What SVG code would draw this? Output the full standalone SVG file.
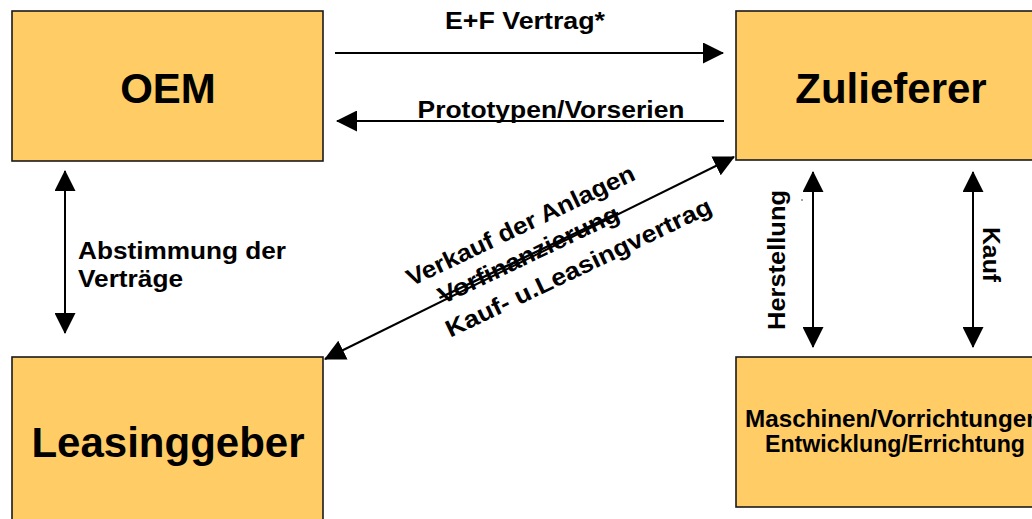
<svg xmlns="http://www.w3.org/2000/svg" width="1032" height="519" viewBox="0 0 1032 519">
<style>
.box{fill:#FFCC66;stroke:#1a1a1a;stroke-width:1.6}
.big{font-family:"Liberation Sans",Arial,sans-serif;font-weight:bold;font-size:42px;fill:#000;text-anchor:middle}
.lbl{font-family:"Liberation Sans",Arial,sans-serif;font-weight:bold;font-size:24px;fill:#000}
.mid{text-anchor:middle}
.con{stroke:#000;stroke-width:2;fill:none}
</style>
<defs>
<marker id="ah" markerUnits="userSpaceOnUse" markerWidth="21" markerHeight="21" refX="20" refY="10.5" orient="auto-start-reverse" viewBox="0 0 21 21">
<path d="M0,0 L21,10.5 L0,21 z" fill="#000"/>
</marker>
</defs>
<rect width="1032" height="519" fill="#fff"/>
<g id="oem"><rect class="box" x="12" y="11" width="311" height="150"/><text class="big" x="168" y="103">OEM</text></g>
<g id="zulieferer"><rect class="box" x="736" y="11" width="310" height="149"/><text class="big" x="891" y="103">Zulieferer</text></g>
<g id="leasinggeber"><rect class="box" x="12" y="357" width="311" height="175"/><text class="big" x="168" y="457">Leasinggeber</text></g>
<g id="maschinen"><rect class="box" x="736" y="357" width="310" height="150"/>
<text class="lbl" x="745" y="427" font-size="23" textLength="296" lengthAdjust="spacingAndGlyphs">Maschinen/Vorrichtungen</text>
<text class="lbl mid" x="895" y="452" font-size="23" textLength="260" lengthAdjust="spacingAndGlyphs">Entwicklung/Errichtung</text></g>
<g id="connectors">
<line class="con" x1="335" y1="53" x2="723" y2="53" marker-end="url(#ah)"/>
<line class="con" x1="724" y1="121" x2="337" y2="121" marker-end="url(#ah)"/>
<line class="con" x1="65" y1="171" x2="65" y2="333" marker-start="url(#ah)" marker-end="url(#ah)"/>
<line class="con" x1="813" y1="172" x2="813" y2="347" marker-start="url(#ah)" marker-end="url(#ah)"/>
<line class="con" x1="973" y1="172" x2="973" y2="347" marker-start="url(#ah)" marker-end="url(#ah)"/>
<line class="con" x1="325" y1="359" x2="734" y2="157" marker-start="url(#ah)" marker-end="url(#ah)"/>
</g>
<g id="labels">
<text class="lbl mid" x="525" y="29" textLength="160" lengthAdjust="spacingAndGlyphs">E+F Vertrag*</text>
<text class="lbl mid" x="551" y="118" font-size="21" textLength="267" lengthAdjust="spacingAndGlyphs">Prototypen/Vorserien</text>
<text class="lbl" x="78" y="259" font-size="25" textLength="208" lengthAdjust="spacingAndGlyphs">Abstimmung der</text>
<text class="lbl" x="78" y="287" font-size="25" textLength="105" lengthAdjust="spacingAndGlyphs">Verträge</text>
<text class="lbl mid" transform="translate(785,260) rotate(-90)" textLength="140" lengthAdjust="spacingAndGlyphs">Herstellung</text>
<text class="lbl mid" transform="translate(983,254.5) rotate(90)" textLength="55" lengthAdjust="spacingAndGlyphs">Kauf</text>
<circle cx="802" cy="200" r="0.8" fill="#333"/>
<text class="lbl mid" font-size="26" transform="translate(524,233) rotate(-25.5)" textLength="250" lengthAdjust="spacingAndGlyphs">Verkauf der Anlagen</text>
<text class="lbl mid" font-size="26" text-decoration="line-through" transform="translate(532,262) rotate(-25.5)" textLength="198" lengthAdjust="spacingAndGlyphs">Vorfinanzierung</text>
<text class="lbl mid" font-size="26" transform="translate(582,275) rotate(-25.5)" textLength="292" lengthAdjust="spacingAndGlyphs">Kauf- u.Leasingvertrag</text>
</g>
</svg>
